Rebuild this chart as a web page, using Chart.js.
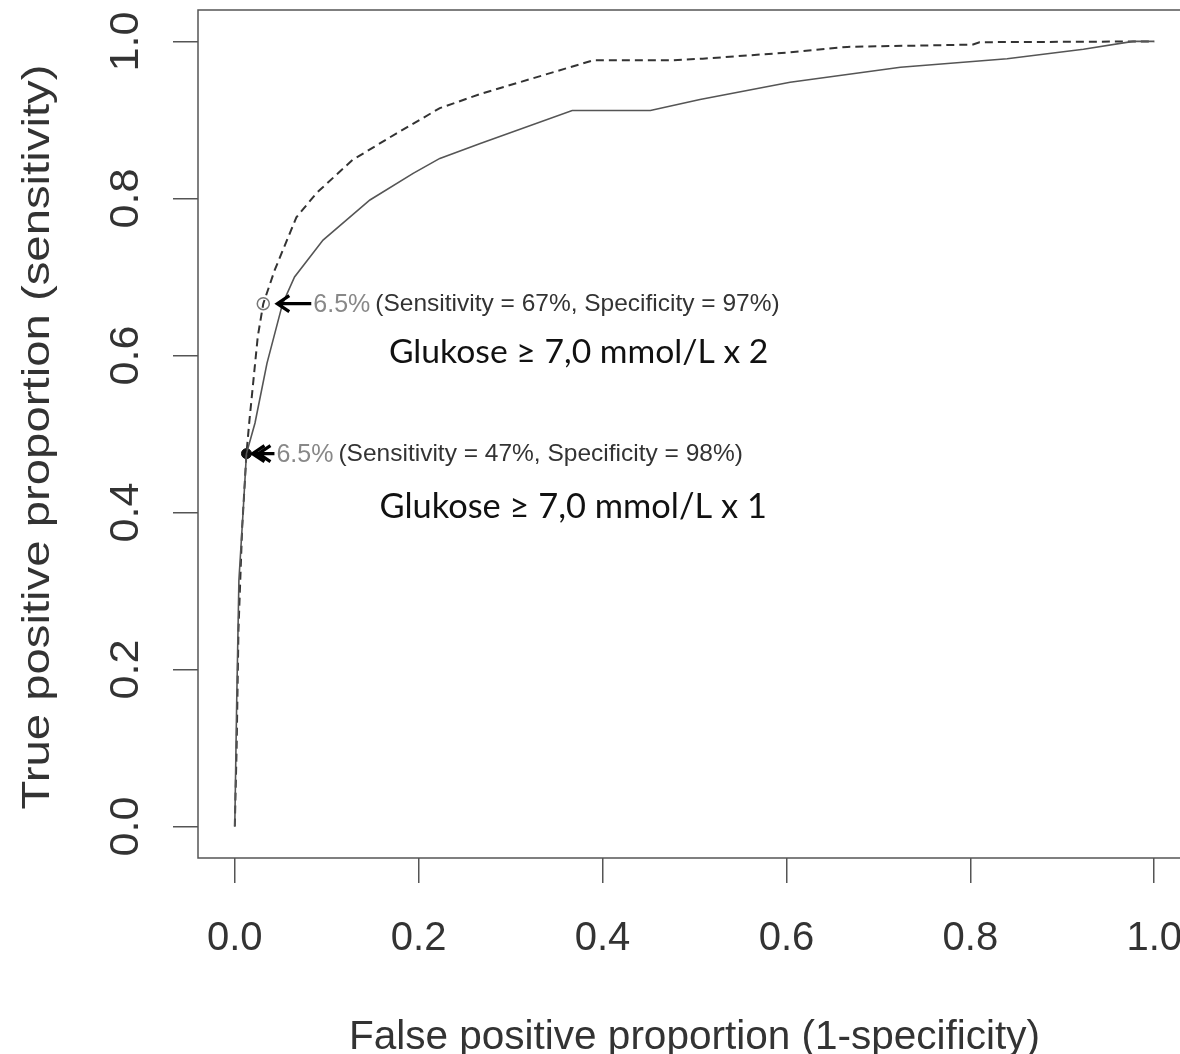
<!DOCTYPE html>
<html>
<head>
<meta charset="utf-8">
<script src="https://cdn.jsdelivr.net/npm/chart.js@4.4.1/dist/chart.umd.min.js"></script>
<style>
  html, body { margin: 0; padding: 0; background: #fff; overflow: hidden; }
  #wrap { width: 1200px; height: 1054px; }
</style>
</head>
<body>
<div id="wrap"><canvas id="roc"></canvas></div>
<script>
// ROC curves: x = 1 - specificity, y = sensitivity
const solidFpr = [0, 0.002, 0.0045, 0.009, 0.0127, 0.022, 0.035, 0.052, 0.065, 0.096, 0.147, 0.194, 0.223, 0.267, 0.367, 0.452, 0.506, 0.604, 0.724, 0.84, 0.923, 0.977, 1]
const solidTpr = [0, 0.153, 0.314, 0.40, 0.475, 0.514, 0.59, 0.666, 0.70, 0.747, 0.798, 0.832, 0.851, 0.87, 0.912, 0.912, 0.926, 0.948, 0.967, 0.978, 0.990, 1.0, 1]

const dashedFpr = [0, 0.002, 0.004, 0.008, 0.0127, 0.016, 0.025, 0.031, 0.0435, 0.067, 0.089, 0.128, 0.176, 0.223, 0.267, 0.39, 0.477, 0.509, 0.604, 0.666, 0.803, 0.81, 1]
const dashedTpr = [0, 0.10, 0.25, 0.38, 0.475, 0.518, 0.624, 0.666, 0.709, 0.776, 0.807, 0.849, 0.883, 0.915, 0.933, 0.976, 0.976, 0.978, 0.986, 0.993, 0.996, 0.999, 1]

// HbA1c 6.5% cut-off points (open = dashed curve, filled = solid curve)
const cutoffFpr = [0.031, 0.0127]
const cutoffTpr = [0.666, 0.475]
const cutoffLabels = ['6.5%', '6.5%']
const cutoffNotes = ['(Sensitivity = 67%, Specificity = 97%)', '(Sensitivity = 47%, Specificity = 98%)']

const curveNames = ['Glukose ≥ 7,0 mmol/L x 2', 'Glukose ≥ 7,0 mmol/L x 1']
const axisTicks = [0, 0.2, 0.4, 0.6, 0.8, 1.0]
const yTitle = 'True positive proportion (sensitivity)'

const FONT = '"Liberation Sans", Arial, Helvetica, sans-serif'

function toPoints(xs, ys) {
  return xs.map((v, i) => ({ x: v, y: ys[i] }))
}

function drawArrow(ctx, tail, tip, yy, heads) {
  ctx.beginPath()
  ctx.moveTo(tail, yy)
  ctx.lineTo(tip, yy)
  for (let k = 0; k < heads; k++) {
    const tx = tip + k * 6
    ctx.moveTo(tx + 12, yy - 8)
    ctx.lineTo(tx, yy)
    ctx.lineTo(tx + 12, yy + 8)
  }
  ctx.stroke()
}

// box, rotated y labels/title, arrows and text notes
const rocDecor = {
  id: 'rocDecor',
  afterDraw(chart) {
    const { ctx, chartArea: a, scales: { x, y } } = chart
    ctx.save()

    ctx.strokeStyle = '#555'
    ctx.lineWidth = 1.5
    ctx.strokeRect(a.left, a.top, a.right - a.left, a.bottom - a.top)

    // y tick labels, parallel to the axis (R default)
    ctx.fillStyle = '#333'
    ctx.font = '40px ' + FONT
    ctx.textAlign = 'center'
    ctx.textBaseline = 'middle'
    axisTicks.forEach((v) => {
      ctx.save()
      ctx.translate(127, y.getPixelForValue(v))
      ctx.rotate(-Math.PI / 2)
      ctx.scale(1.08, 1)
      ctx.fillText(v.toFixed(1), 0, 0)
      ctx.restore()
    })

    // y title, stretched along the axis like the source image
    ctx.save()
    ctx.font = '39px ' + FONT
    ctx.translate(38, (a.top + a.bottom) / 2 + 3)
    ctx.rotate(-Math.PI / 2)
    ctx.scale(745 / ctx.measureText(yTitle).width, 1)
    ctx.fillText(yTitle, 0, 0)
    ctx.restore()

    // arrows + "6.5% (...)" notes
    const arrowSpec = [
      { tip: 14, tail: 48, heads: 1 },
      { tip: 6, tail: 28, heads: 2 },
    ]
    cutoffFpr.forEach((fx, i) => {
      const px = x.getPixelForValue(fx)
      const py = y.getPixelForValue(cutoffTpr[i])
      const s = arrowSpec[i]
      ctx.strokeStyle = '#000'
      ctx.lineWidth = 3.2
      drawArrow(ctx, px + s.tail, px + s.tip, py, s.heads)

      ctx.textAlign = 'left'
      ctx.textBaseline = 'middle'
      ctx.font = '25px ' + FONT
      ctx.fillStyle = '#888'
      const tx = px + s.tail + 2
      ctx.fillText(cutoffLabels[i], tx, py + 1)
      const w = ctx.measureText(cutoffLabels[i]).width
      ctx.font = '24.5px ' + FONT
      ctx.fillStyle = '#333'
      ctx.fillText(cutoffNotes[i], tx + w + 5, py + 1)
    })

    // curve names, Calibri-like text
    const nameSpec = [
      { cx: 0.374, cy: 0.604, width: 380 },
      { cx: 0.368, cy: 0.407, width: 388 },
    ]
    ctx.fillStyle = '#111'
    ctx.textAlign = 'center'
    ctx.textBaseline = 'middle'
    curveNames.forEach((t, i) => {
      const s = nameSpec[i]
      ctx.font = '32px Lato, "Noto Sans", sans-serif'
      const size = 32 * s.width / ctx.measureText(t).width
      ctx.font = size.toFixed(1) + 'px Lato, "Noto Sans", sans-serif'
      ctx.fillText(t, x.getPixelForValue(s.cx), y.getPixelForValue(s.cy))
    })

    ctx.restore()
  },
}

const axisGrid = { drawOnChartArea: false, drawTicks: true, tickLength: 25, color: '#555', lineWidth: 1.5 }

new Chart(document.getElementById('roc'), {
  type: 'scatter',
  data: {
    datasets: [
      {
        label: curveNames[1],
        data: toPoints(solidFpr, solidTpr),
        showLine: true,
        borderColor: '#555',
        borderWidth: 1.6,
        pointRadius: 0,
        tension: 0,
      },
      {
        label: curveNames[0],
        data: toPoints(dashedFpr, dashedTpr),
        showLine: true,
        borderColor: '#333',
        borderWidth: 2,
        borderDash: [8, 5],
        pointRadius: 0,
        tension: 0,
      },
      {
        label: 'cut-off (x 2)',
        data: [{ x: cutoffFpr[0], y: cutoffTpr[0] }],
        pointRadius: 6,
        backgroundColor: 'rgba(0,0,0,0)',
        borderColor: '#777',
        borderWidth: 1.5,
      },
      {
        label: 'cut-off (x 1)',
        data: [{ x: cutoffFpr[1], y: cutoffTpr[1] }],
        pointRadius: 5,
        backgroundColor: '#111',
        borderColor: '#111',
        borderWidth: 1,
      },
    ],
  },
  options: {
    responsive: true,
    maintainAspectRatio: false,
    animation: false,
    layout: { padding: { top: 10, right: 9, left: 0, bottom: 0 } },
    plugins: { legend: { display: false }, tooltip: { enabled: false } },
    scales: {
      x: {
        type: 'linear',
        min: -0.04,
        max: 1.04,
        afterBuildTicks: (s) => { s.ticks = axisTicks.map((v) => ({ value: v })) },
        afterFit: (s) => {
          s.height = 196
          s.paddingLeft = 0
          s.paddingRight = 0
        },
        grid: axisGrid,
        border: { display: false },
        ticks: {
          color: '#333',
          font: { size: 40, family: FONT },
          padding: 32,
          maxRotation: 0,
          autoSkip: false,
          callback: (v) => Number(v).toFixed(1),
        },
        title: {
          display: true,
          text: 'False positive proportion (1-specificity)',
          color: '#333',
          font: { size: 40.5, family: FONT, lineHeight: 0.8 },
          padding: { top: 0, bottom: 0 },
        },
      },
      y: {
        type: 'linear',
        min: -0.04,
        max: 1.04,
        afterBuildTicks: (s) => { s.ticks = axisTicks.map((v) => ({ value: v })) },
        afterFit: (s) => {
          s.width = 198
          s.paddingTop = 0
          s.paddingBottom = 0
        },
        grid: axisGrid,
        border: { display: false },
        ticks: { display: false },
        title: { display: false },
      },
    },
  },
  plugins: [rocDecor],
})
</script>
</body>
</html>
